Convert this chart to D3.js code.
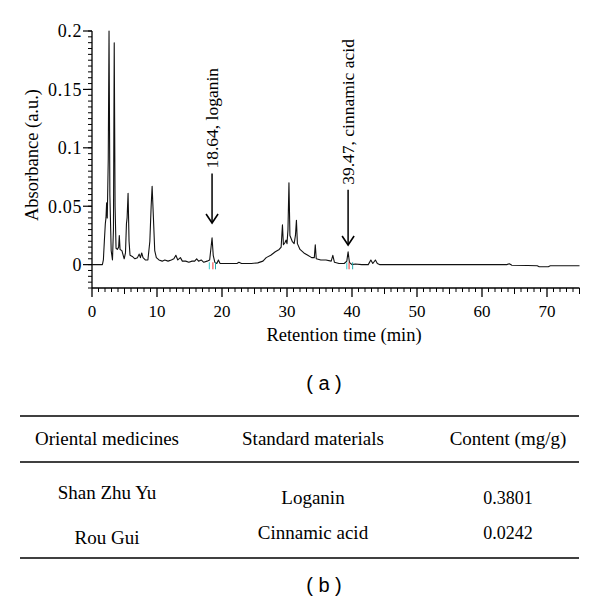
<!DOCTYPE html>
<html>
<head>
<meta charset="utf-8">
<script src="https://cdn.jsdelivr.net/npm/d3@7/dist/d3.min.js"></script>
<style>
  html, body { margin: 0; padding: 0; background: #fff; }
  svg { display: block; }
</style>
</head>
<body>
<svg id="chart" width="600" height="609"></svg>
<script>
// ---------- DATA ----------
const times = [0,1.6,1.75,1.9,2.05,2.15,2.25,2.35,2.5,2.62,2.75,2.95,3.15,3.3,3.42,3.55,3.7,3.9,4.1,4.2,4.32,4.6,4.8,4.95,5.15,5.3,5.4,5.55,5.7,5.85,6.2,6.6,7.0,7.25,7.45,7.65,7.85,8.2,8.6,8.9,9.1,9.25,9.45,9.65,9.9,10.3,10.8,11.2,11.7,12.2,12.6,12.9,13.2,13.6,13.9,14.4,14.9,15.4,15.8,16.1,16.4,16.8,17.2,17.7,18.1,18.3,18.47,18.65,18.9,19.2,19.45,19.7,20.5,21.5,22.3,22.6,23,24.5,25.5,26.3,26.8,27.5,28.2,28.8,29.1,29.3,29.45,29.7,29.85,30.0,30.15,30.3,30.45,30.8,31.1,31.3,31.45,31.6,32.0,32.6,33.2,33.8,34.2,34.35,34.5,35.2,36.0,36.8,37.05,37.3,38.0,38.8,39.2,39.4,39.6,40.0,40.5,41.5,42.5,42.9,43.2,43.6,43.9,44.3,50,60,63.8,64.2,64.6,67,68.5,68.8,70.2,70.5,75];
const absorbance = [0,0,0.004,0.02,0.035,0.04,0.053,0.04,0.09,0.2,0.06,0.012,0.004,0.03,0.19,0.05,0.014,0.013,0.015,0.025,0.013,0.012,0.008,0.005,0.01,0.035,0.04,0.061,0.02,0.008,0.007,0.005,0.006,0.009,0.006,0.01,0.006,0.004,0.004,0.02,0.05,0.067,0.04,0.012,0.006,0.004,0.003,0.004,0.003,0.004,0.005,0.008,0.004,0.006,0.003,0.003,0.002,0.003,0.003,0.005,0.003,0.004,0.002,0.003,0.004,0.014,0.023,0.008,0.002,0.001,0.004,0.001,0.001,0.001,0.001,0.002,0.001,0.001,0.0015,0.003,0.006,0.008,0.011,0.013,0.015,0.034,0.017,0.019,0.021,0.018,0.03,0.07,0.025,0.02,0.018,0.025,0.038,0.018,0.013,0.01,0.008,0.006,0.006,0.017,0.005,0.004,0.004,0.003,0.008,0.002,0.001,0.001,0.003,0.011,0.002,0,0.0005,0,0,0.004,0.001,0.004,0.001,0,0,0,0,0.0008,-0.0005,-0.0008,-0.001,-0.0018,-0.0018,-0.001,-0.001];

const yTickValues = [0, 0.05, 0.1, 0.15, 0.2];
const yTickLabels = ["0", "0.05", "0.1", "0.15", "0.2"];
const xTickValues = [0, 10, 20, 30, 40, 50, 60, 70];
const xTickLabels = ["0", "10", "20", "30", "40", "50", "60", "70"];

const annotTimes = [18.47, 39.4];
const annotTips = [0.0356, 0.0168];
const annotTails = [0.078, 0.064];
const annotLabels = ["18.64, loganin", "39.47, cinnamic acid"];

const markerTimes = [18.05, 18.6, 19.0, 39.2, 39.55, 40.1];
const markerColors = ["#3cc", "#e33", "#2aa", "#3cc", "#e33", "#2aa"];

const tableHeader = ["Oriental medicines", "Standard materials", "Content (mg/g)"];
const medicines = ["Shan Zhu Yu", "Rou Gui"];
const materials = ["Loganin", "Cinnamic acid"];
const contents = ["0.3801", "0.0242"];

const xLabel = "Retention time (min)";
const yLabel = "Absorbance (a.u.)";
const panelA = "( a )";
const panelB = "( b )";

// ---------- DRAW ----------
const svg = d3.select("#chart");
const serif = "'Liberation Serif', 'Times New Roman', serif";
const sans = "'Liberation Sans', Arial, sans-serif";

svg.append("rect").attr("width", 600).attr("height", 609).attr("fill", "#fff");

const x = d3.scaleLinear().domain([0, 75]).range([92, 579.5]);
const y = d3.scaleLinear().domain([-0.02, 0.2]).range([288, 31]);

const g = svg.append("g");

// y axis
const yAxis = g.append("g").attr("transform", `translate(${x(0)},0)`);
yAxis.append("line").attr("x1", 0).attr("x2", 0).attr("y1", y(0.2)).attr("y2", y(-0.02))
  .attr("stroke", "#000").attr("stroke-width", 1.3);
const yMinor = d3.range(-20, 201, 5).map(v => v / 1000);
yAxis.selectAll("line.ym").data(yMinor).enter().append("line")
  .attr("x1", 0).attr("x2", -4).attr("y1", d => y(d)).attr("y2", d => y(d))
  .attr("stroke", "#000").attr("stroke-width", 1);
yAxis.selectAll("line.yM").data(yTickValues).enter().append("line")
  .attr("x1", 0).attr("x2", -9).attr("y1", d => y(d)).attr("y2", d => y(d))
  .attr("stroke", "#000").attr("stroke-width", 1.2);
yAxis.selectAll("text").data(yTickValues).enter().append("text")
  .attr("x", -10).attr("y", d => y(d)).attr("dy", "0.36em")
  .attr("text-anchor", "end").attr("font-family", serif).attr("font-size", 18)
  .attr("letter-spacing", 0.6)
  .text((d, i) => yTickLabels[i]);

// x axis
const xAxis = g.append("g").attr("transform", `translate(0,${y(-0.02)})`);
xAxis.append("line").attr("x1", x(0)).attr("x2", x(75)).attr("y1", 0).attr("y2", 0)
  .attr("stroke", "#000").attr("stroke-width", 1.3);
const xMinor = d3.range(0, 76, 1);
xAxis.selectAll("line.xm").data(xMinor).enter().append("line")
  .attr("x1", d => x(d)).attr("x2", d => x(d)).attr("y1", 0)
  .attr("y2", d => d % 10 === 0 ? 9 : (d % 5 === 0 ? 6 : 4))
  .attr("stroke", "#000").attr("stroke-width", d => d % 10 === 0 ? 1.3 : 1);
xAxis.selectAll("text").data(xTickValues).enter().append("text")
  .attr("x", d => x(d)).attr("y", 29)
  .attr("text-anchor", "middle").attr("font-family", serif).attr("font-size", 17)
  .text((d, i) => xTickLabels[i]);

// axis titles
svg.append("text").attr("x", 344).attr("y", 341).attr("text-anchor", "middle")
  .attr("font-family", serif).attr("font-size", 18.5).text(xLabel);
svg.append("text").attr("transform", "translate(38,155) rotate(-90)")
  .attr("text-anchor", "middle").attr("font-family", serif).attr("font-size", 18.5).text(yLabel);

// trace
const pts = times.map((t, i) => [t, absorbance[i]]);
const line = d3.line().x(d => x(d[0])).y(d => y(d[1]));
svg.append("path").datum(pts).attr("d", line)
  .attr("fill", "none").attr("stroke", "#111").attr("stroke-width", 1.1)
  .attr("stroke-linejoin", "round");

// integration markers
svg.selectAll("line.mk").data(markerTimes).enter().append("line")
  .attr("x1", d => x(d)).attr("x2", d => x(d))
  .attr("y1", y(0.002)).attr("y2", y(-0.004))
  .attr("stroke", (d, i) => markerColors[i]).attr("stroke-width", 1);

// annotations
const ann = svg.selectAll("g.ann").data(annotTimes).enter().append("g");
ann.append("line")
  .attr("x1", d => x(d)).attr("x2", d => x(d))
  .attr("y1", (d, i) => y(annotTails[i])).attr("y2", (d, i) => y(annotTips[i]))
  .attr("stroke", "#000").attr("stroke-width", 1.5);
ann.append("path")
  .attr("d", (d, i) => {
    const cx = x(d), ty = y(annotTips[i]);
    return `M${cx - 6},${ty - 9} L${cx},${ty} L${cx + 6},${ty - 9}`;
  })
  .attr("fill", "none").attr("stroke", "#000").attr("stroke-width", 1.6);
ann.append("text")
  .attr("transform", (d, i) => `translate(${x(d) + 6},${y(annotTails[i]) - 5}) rotate(-90)`)
  .attr("text-anchor", "start").attr("font-family", serif).attr("font-size", 17.5)
  .text((d, i) => annotLabels[i]);

// panel label (a)
svg.append("text").attr("x", 324).attr("y", 390).attr("text-anchor", "middle")
  .attr("font-family", sans).attr("font-size", 20).text(panelA);

// ---------- TABLE ----------
const colX = [107, 313, 508];
[416, 462, 558].forEach(yy => {
  svg.append("line").attr("x1", 20).attr("x2", 579).attr("y1", yy).attr("y2", yy)
    .attr("stroke", "#000").attr("stroke-width", 1.6);
});
svg.selectAll("text.hd").data(tableHeader).enter().append("text")
  .attr("x", (d, i) => colX[i]).attr("y", 445).attr("text-anchor", "middle")
  .attr("font-family", serif).attr("font-size", 19).text(d => d);
const rowYs = [[499, 504, 504], [544, 539, 539]];
const rows = medicines.map((m, i) => [m, materials[i], contents[i]]);
rows.forEach((r, ri) => {
  r.forEach((cell, ci) => {
    svg.append("text").attr("x", colX[ci]).attr("y", rowYs[ri][ci])
      .attr("text-anchor", "middle").attr("font-family", serif)
      .attr("font-size", ci === 2 ? 18 : 19)
      .text(cell);
  });
});
svg.append("text").attr("x", 324).attr("y", 592).attr("text-anchor", "middle")
  .attr("font-family", sans).attr("font-size", 20).text(panelB);
</script>
</body>
</html>
